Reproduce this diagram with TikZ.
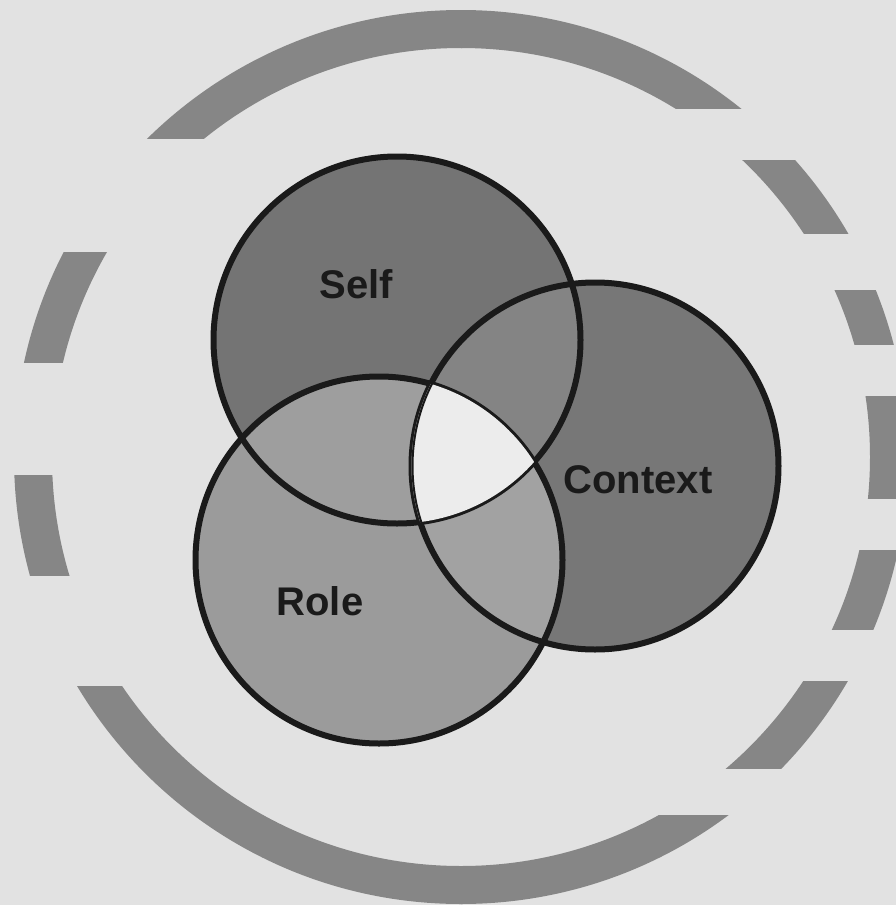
\documentclass[tikz,border=0pt]{standalone}
\usepackage{fontspec}
\newfontfamily\vennfont{Liberation Sans}
\usepackage{xcolor}
\usepackage{tikz}

\definecolor{bggray}{RGB}{226,226,226}
\definecolor{ringgray}{RGB}{134,134,134}
\definecolor{selfgray}{RGB}{116,116,116}
\definecolor{ctxgray}{RGB}{119,119,119}
\definecolor{rolegray}{RGB}{155,155,155}
\definecolor{srgray}{RGB}{158,158,158}
\definecolor{scgray}{RGB}{132,132,132}
\definecolor{rcgray}{RGB}{162,162,162}
\definecolor{coregray}{RGB}{236,236,236}
\definecolor{inkgray}{RGB}{26,26,26}

\begin{document}
\begin{tikzpicture}[
  x=1pt, y=-1pt,
  rim/.style={line width=6pt, draw=inkgray},
  setname/.style={font={\vennfont\bfseries\fontsize{40}{48}\selectfont},
                  text=inkgray, anchor=base, inner sep=0pt},
]

\clip (0,0) rectangle (896,905);
\fill[bggray] (0,0) rectangle (896,905);

% broken outer ring, every piece cut by horizontal lines
\coordinate (ring) at (461,457);
\foreach \xa/\ya/\xb/\yb in {0/0/462/138, 461/0/896/108,
    461/160/896/233, 461/290/896/344, 461/396/896/498,
    461/550/896/629, 461/681/896/768, 461/815/896/905,
    0/686/462/905, 0/475/461/575, 0/252/461/362}{
  \begin{scope}
    \clip (\xa,\ya) rectangle (\xb,\yb);
    \fill[ringgray, even odd rule] (ring) circle (447pt) (ring) circle (409pt);
  \end{scope}
}

\coordinate (self) at (397,340);
\coordinate (ctx) at (595,466);
\coordinate (role) at (379,560);

\fill[selfgray] (self) circle (183.5pt);
\fill[ctxgray] (ctx) circle (183.5pt);
\fill[rolegray] (role) circle (183.5pt);

% pairwise overlaps
\begin{scope}
  \clip (self) circle (183.5pt);
  \fill[srgray] (role) circle (183.5pt);
  \fill[scgray] (ctx) circle (183.5pt);
\end{scope}
\begin{scope}
  \clip (role) circle (183.5pt);
  \fill[rcgray] (ctx) circle (183.5pt);
\end{scope}

\draw[rim] (self) circle (183.5pt);
\draw[rim] (ctx) circle (183.5pt);
\draw[rim] (role) circle (183.5pt);

% common core
\begin{scope}
  \clip (self) circle (183.5pt);
  \clip (ctx) circle (183.5pt);
  \fill[coregray] (role) circle (183.5pt);
  \draw[line width=4pt, inkgray] (ctx) circle (183.5pt);
\end{scope}

\node[setname] (selfname) at (356,298) {Self};
\node[setname] (ctxname) at (638,493) {Context};
\node[setname] (rolename) at (320,615) {Role};

\end{tikzpicture}
\end{document}
